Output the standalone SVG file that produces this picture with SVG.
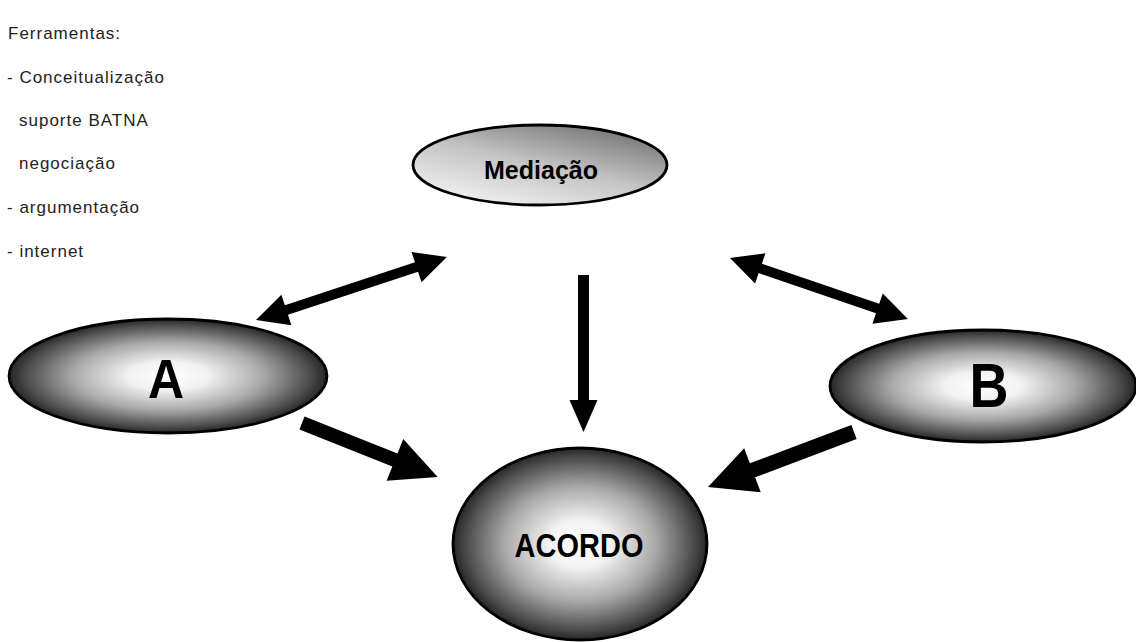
<svg xmlns="http://www.w3.org/2000/svg" width="1136" height="642" viewBox="0 0 1136 642">
  <defs>
    <radialGradient id="shade" cx="0.5" cy="0.5" r="0.5">
      <stop offset="0" stop-color="#ffffff"/>
      <stop offset="0.25" stop-color="#f2f2f2"/>
      <stop offset="0.6" stop-color="#a8a8a8"/>
      <stop offset="0.9" stop-color="#4a4a4a"/>
      <stop offset="1" stop-color="#262626"/>
    </radialGradient>
    <linearGradient id="mediaShade" x1="0.15" y1="1" x2="0.85" y2="0">
      <stop offset="0" stop-color="#f6f6f6"/>
      <stop offset="0.5" stop-color="#c4c4c4"/>
      <stop offset="1" stop-color="#6e6e6e"/>
    </linearGradient>
  </defs>
  <style>
    .node { stroke: #000; stroke-width: 2.8; }
    .label { font-family: "Liberation Sans", Arial, sans-serif; font-weight: bold; fill: #000; text-anchor: middle; }
    .tools { font-family: "Liberation Sans", Arial, sans-serif; font-size: 17px; fill: #222; letter-spacing: 1px; }
    .arrow { fill: #000; }
  </style>
  <rect width="1136" height="642" fill="#fff"/>

  <!-- tool list -->
  <g id="tools">
    <text class="tools" x="8" y="39" letter-spacing="0.3">Ferramentas:</text>
    <text class="tools" x="7" y="83" letter-spacing="1.6">- Conceitualização</text>
    <text class="tools" x="19" y="126">suporte BATNA</text>
    <text class="tools" x="19" y="169">negociação</text>
    <text class="tools" x="7" y="213">- argumentação</text>
    <text class="tools" x="7" y="257">- internet</text>
  </g>

  <!-- connectors -->
  <g id="connectors">
    <path class="arrow" transform="translate(256,320) rotate(-18.25)" d="M0,0 L32,-16 L32,-5 L169,-5 L169,-16 L201,0 L169,16 L169,5 L32,5 L32,16 Z"/>
    <path class="arrow" transform="translate(730,258) rotate(18.9)" d="M0,0 L32,-16 L32,-5 L156,-5 L156,-16 L188,0 L156,16 L156,5 L32,5 L32,16 Z"/>
    <path class="arrow" transform="translate(583.5,275) rotate(90)" d="M0,-5.5 L125,-5.5 L125,-14 L157,0 L125,14 L125,5.5 L0,5.5 Z"/>
    <path class="arrow" transform="translate(302,423) rotate(21.66)" d="M0,-7 L100,-7 L100,-22.5 L146,0 L100,22.5 L100,7 L0,7 Z"/>
    <path class="arrow" transform="translate(854,432) rotate(159.36)" d="M0,-7.5 L108.5,-7.5 L108.5,-23.5 L156,0 L108.5,23.5 L108.5,7.5 L0,7.5 Z"/>
  </g>

  <g id="mediacao">
    <ellipse class="node" cx="540" cy="165" rx="127" ry="40" fill="url(#mediaShade)"/>
    <text class="label" x="541" y="179" font-size="25">Mediação</text>
  </g>

  <g id="a">
    <ellipse class="node" cx="168" cy="376" rx="159" ry="57" fill="url(#shade)"/>
    <text class="label" transform="translate(166,398) scale(1,1.1)" font-size="50">A</text>
  </g>

  <g id="b">
    <ellipse class="node" cx="983" cy="386" rx="153" ry="56" fill="url(#shade)"/>
    <text class="label" transform="translate(989,407) scale(1,1.15)" font-size="54">B</text>
  </g>

  <g id="acordo">
    <ellipse class="node" cx="580" cy="544" rx="127" ry="96" fill="url(#shade)"/>
    <text class="label" transform="translate(579,557) scale(1,1.15)" font-size="29">ACORDO</text>
  </g>
</svg>
